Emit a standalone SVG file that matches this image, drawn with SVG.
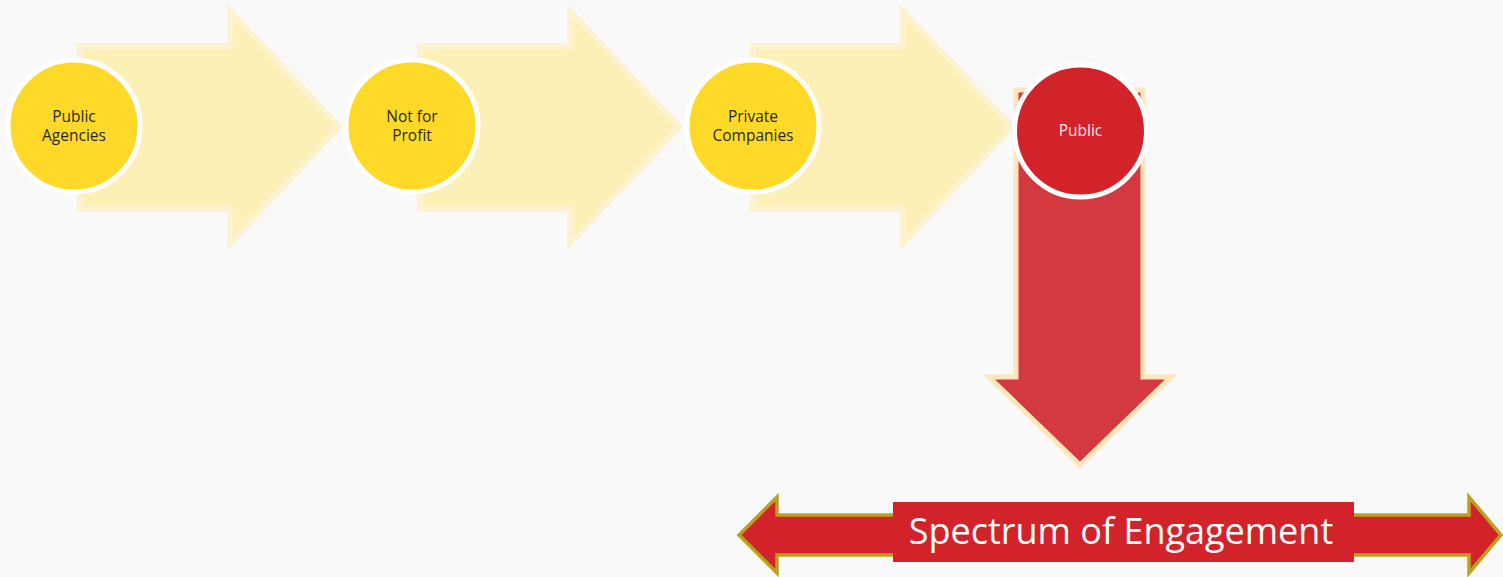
<svg xmlns="http://www.w3.org/2000/svg" width="1503" height="577" viewBox="0 0 1503 577">
  <style>
    .flow { fill: #fdf0b6; stroke: #fdf2cf; stroke-width: 6; stroke-linejoin: miter; stroke-miterlimit: 10; }
    .stage { fill: #ffd928; stroke: #ffffff; stroke-width: 5; }
    .stage-text { font-family: "Open Sans", "Liberation Sans", sans-serif; font-size: 15.5px; fill: #2b2a22; text-anchor: middle; }
    .public { fill: #d2232a; stroke: #ffffff; stroke-width: 5; }
    .public-text { font-family: "Open Sans", "Liberation Sans", sans-serif; font-size: 15.5px; fill: #f7e4e4; text-anchor: middle; }
    .drop { fill: #d43940; stroke: #fde6bc; stroke-width: 5; stroke-linejoin: miter; stroke-miterlimit: 10; }
    .spectrum { fill: #d2232a; stroke: #bca11e; stroke-width: 3.5; stroke-linejoin: miter; stroke-miterlimit: 10; }
    .banner-text { font-family: "Open Sans", "Liberation Sans", sans-serif; font-size: 36px; fill: #ffffff; text-anchor: middle; }
  </style>
  <defs>
    <polygon id="flow-arrow" points="80,46 230,46 230,11 339,127 230,243 230,209 80,209"/>
  </defs>

  <rect width="1503" height="577" fill="#f9f9f9"/>

  <g id="connectors">
    <use href="#flow-arrow" class="flow"/>
    <use href="#flow-arrow" class="flow" transform="translate(340,0)"/>
    <use href="#flow-arrow" class="flow" transform="translate(673,0)"/>
    <polygon id="drop-arrow" class="drop" points="1016,90 1143,90 1143,377 1171,377 1080,465 989,377 1016,377"/>
    <polygon id="spectrum-arrow" class="spectrum" points="739,535 777,497 777,515 1469,515 1469,497 1501,535 1469,573 1469,555 777,555 777,573"/>
  </g>

  <g id="node-public-agencies">
    <circle class="stage" cx="74" cy="126" r="66"/>
    <text class="stage-text" x="74" y="122">Public</text>
    <text class="stage-text" x="74" y="141">Agencies</text>
  </g>

  <g id="node-not-for-profit">
    <circle class="stage" cx="412" cy="126" r="66"/>
    <text class="stage-text" x="412" y="122">Not for</text>
    <text class="stage-text" x="412" y="141">Profit</text>
  </g>

  <g id="node-private-companies">
    <circle class="stage" cx="753" cy="126" r="66"/>
    <text class="stage-text" x="753" y="122">Private</text>
    <text class="stage-text" x="753" y="141">Companies</text>
  </g>

  <g id="node-public">
    <circle class="public" cx="1080.5" cy="131" r="66"/>
    <text class="public-text" x="1080.5" y="135.5">Public</text>
  </g>

  <g id="node-spectrum">
    <rect x="893" y="502" width="461" height="60" fill="#d2232a"/>
    <text class="banner-text" x="1121" y="543.5">Spectrum of Engagement</text>
  </g>
</svg>
